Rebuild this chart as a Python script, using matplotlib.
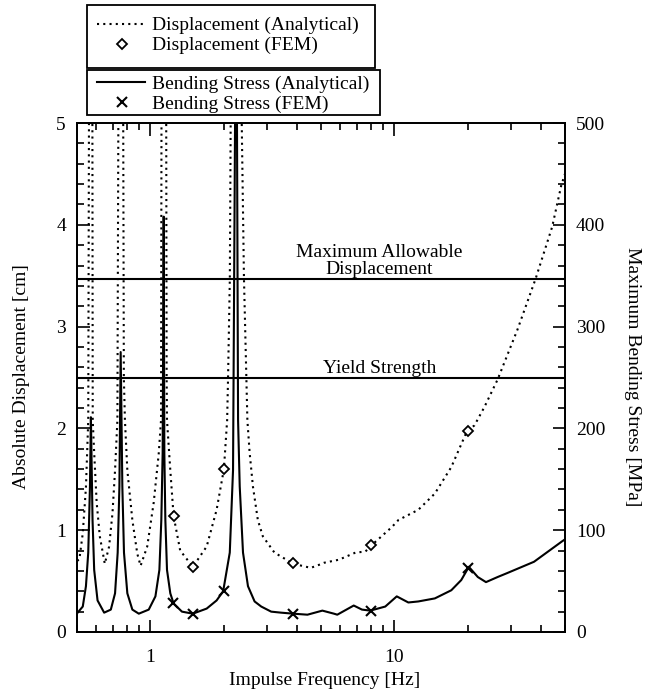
import matplotlib
matplotlib.use("Agg")
import matplotlib.pyplot as plt
from matplotlib.ticker import FixedLocator, FixedFormatter, MultipleLocator, NullFormatter
from matplotlib.lines import Line2D
from matplotlib.patches import Rectangle

plt.rcParams['font.family'] = ['Liberation Serif', 'DejaVu Serif']

# ---- data ----
# Displacement (Analytical) [cm]
disp_f = [0.50, 0.511, 0.528, 0.544, 0.556, 0.560, 0.569, 0.578, 0.580, 0.588, 0.602, 0.620, 0.650,
          0.677, 0.699, 0.716, 0.732, 0.739, 0.756, 0.773, 0.778, 0.786, 0.804, 0.843, 0.883, 0.911,
          0.970, 1.031, 1.081, 1.105, 1.110, 1.135, 1.160, 1.165, 1.169, 1.206, 1.244, 1.324, 1.492,
          1.70, 1.867, 2.0, 2.062, 2.08, 2.115, 2.134, 2.25, 2.36, 2.417, 2.472, 2.496, 2.55, 2.63,
          2.755, 2.888, 3.222, 3.85, 4.54, 4.91, 5.145, 5.92, 6.92, 7.60, 8.04, 9.75, 10.38, 12.52,
          14.64, 17.10, 19.80, 21.28, 23.37, 26.47, 31.92, 37.89, 44.3, 48.3, 50.0]
disp_v = [0.70, 0.71, 0.97, 1.42, 2.08, 5.2, 9.0, 5.2, 2.08, 1.76, 1.27, 0.94, 0.67,
          0.84, 1.17, 1.59, 2.08, 5.2, 9.0, 5.2, 2.5, 2.08, 1.59, 1.10, 0.77, 0.65,
          0.84, 1.27, 1.75, 2.08, 5.2, 9.0, 5.2, 2.5, 2.08, 1.59, 1.14, 0.80, 0.64,
          0.84, 1.20, 1.60, 2.08, 2.5, 3.47, 5.2, 9.0, 5.2, 3.47, 2.5, 2.08, 1.76, 1.43,
          1.10, 0.94, 0.78, 0.67, 0.63, 0.66, 0.68, 0.71, 0.78, 0.79, 0.85, 1.03, 1.10, 1.20,
          1.36, 1.62, 1.97, 2.03, 2.21, 2.48, 2.97, 3.47, 3.98, 4.39, 4.50]

# Displacement (FEM) [cm]
fem_disp_f = [1.25, 1.5, 2.0, 3.85, 8.0, 20.0]
fem_disp_v = [1.14, 0.64, 1.60, 0.68, 0.85, 1.97]

# Bending Stress (Analytical) [MPa]
str_f = [0.50, 0.503, 0.528, 0.544, 0.556, 0.565, 0.570, 0.579, 0.588, 0.607, 0.646, 0.688, 0.716,
         0.734, 0.746, 0.755, 0.767, 0.779, 0.804, 0.843, 0.896, 0.984, 1.048, 1.088, 1.108, 1.122,
         1.133, 1.140, 1.151, 1.169, 1.206, 1.244, 1.346, 1.492, 1.70, 1.867, 1.986, 2.114, 2.18,
         2.247, 2.286, 2.322, 2.395, 2.51, 2.672, 2.845, 3.124, 3.43, 3.85, 4.40, 5.065, 5.65, 5.83,
         6.81, 7.36, 7.96, 9.17, 10.22, 11.40, 12.52, 14.64, 17.10, 18.78, 20.18, 21.96, 23.72,
         26.47, 29.06, 37.33, 48.6, 50.0]
str_v = [18, 19, 25, 45, 78, 143, 211, 110, 61, 31, 19, 22, 38,
         78, 143, 275, 143, 78, 38, 22, 18, 22, 35, 61, 110, 176,
         408, 176, 110, 61, 38, 28, 20, 18, 23, 31, 40, 78, 159,
         700, 208, 143, 78, 45, 30, 25, 20, 19, 18, 17, 21, 18, 17,
         26, 22, 21, 25, 35, 29, 30, 33, 41, 51, 64, 54, 49,
         54, 58, 69, 89, 91]

# Bending Stress (FEM) [MPa]
fem_str_f = [1.24, 1.5, 2.0, 3.85, 8.0, 20.0]
fem_str_v = [28, 18, 40, 18, 21, 63]

# limit lines
max_allow_disp = 3.47   # cm
yield_strength = 250    # MPa

x_ticks = [1, 10]
x_ticklabels = ['1', '10']

legend_labels = ['Displacement (Analytical)', 'Displacement (FEM)',
                 'Bending Stress (Analytical)', 'Bending Stress (FEM)']

# ---- figure ----
W, H = 655, 690
fig = plt.figure(figsize=(W / 100, H / 100), dpi=100)
ax = fig.add_axes([77 / W, 1 - 632 / H, (565 - 77) / W, (632 - 123) / H])
ax2 = ax.twinx()

FS = 14
DOT = (0, (1, 2))

ax.set_xscale('log')
ax.set_xlim(0.5, 50)
ax.set_ylim(0, 5)
ax2.set_ylim(0, 500)

ax.plot(disp_f, disp_v, color='black', lw=1.5, ls=DOT)
ax.plot(fem_disp_f, fem_disp_v, ls='none', marker='D', ms=5.5, mfc='white', mec='black', mew=1.3)
ax2.plot(str_f, str_v, color='black', lw=1.5)
ax2.plot(fem_str_f, fem_str_v, ls='none', marker='x', ms=7, mec='black', mew=1.5)

ax.axhline(max_allow_disp, color='black', lw=1.5)
ax2.axhline(yield_strength, color='black', lw=1.5)

xt = 10 ** ((381 - 150) / 246)
ax.text(xt, 3.684, 'Maximum Allowable', ha='center', va='baseline', fontsize=FS)
ax.text(xt, 3.517, 'Displacement', ha='center', va='baseline', fontsize=FS)
ax.text(xt, 2.544, 'Yield Strength', ha='center', va='baseline', fontsize=FS)

# ticks
ax.xaxis.set_major_locator(FixedLocator(x_ticks))
ax.xaxis.set_major_formatter(FixedFormatter(x_ticklabels))
ax.xaxis.set_minor_formatter(NullFormatter())
ax.yaxis.set_major_locator(MultipleLocator(1))
ax.yaxis.set_minor_locator(MultipleLocator(0.2))
ax2.yaxis.set_major_locator(MultipleLocator(100))
ax2.yaxis.set_minor_locator(MultipleLocator(20))
ax.tick_params(which='both', direction='in', top=True, right=False, labelsize=FS, width=1.2)
ax.tick_params(which='major', length=9, pad=8)
ax.tick_params(which='minor', length=5)
ax.tick_params(axis='x', which='major', pad=12)
ax2.tick_params(which='both', direction='in', labelsize=FS, width=1.2)
ax2.tick_params(which='major', length=9, pad=8)
ax2.tick_params(which='minor', length=5)

for a in (ax, ax2):
    for s in a.spines.values():
        s.set_linewidth(1.3)

# axis labels
fig.text(325 / W, 1 - 685 / H, 'Impulse Frequency [Hz]', ha='center', va='baseline', fontsize=FS)
fig.text(22 / W, 1 - 377 / H, 'Absolute Displacement [cm]', ha='center', va='center',
         rotation=90, fontsize=FS)
fig.text(633 / W, 1 - 377 / H, 'Maximum Bending Stress [MPa]', ha='center', va='center',
         rotation=-90, fontsize=FS)

# legends (two boxes)
def fx(px):
    return px / W

def fy(py):
    return 1 - py / H

for (x0, y0, x1, y1) in [(87, 5, 375, 68), (87, 70, 380, 115)]:
    fig.patches.append(Rectangle((fx(x0), fy(y1)), fx(x1) - fx(x0), fy(y0) - fy(y1),
                                 transform=fig.transFigure, fill=True, facecolor='white',
                                 edgecolor='black', lw=1.3, zorder=5))

hx0, hx1, hxm = 97, 145, 122
rows = [24, 44, 82, 102]
base = [29.5, 49.5, 88.5, 108.5]
fig.lines.append(Line2D([fx(hx0), fx(hx1)], [fy(rows[0])] * 2, transform=fig.transFigure,
                        color='black', lw=1.5, ls=DOT, zorder=6))
fig.lines.append(Line2D([fx(hxm)], [fy(rows[1])], transform=fig.transFigure, ls='none',
                        marker='D', ms=5.5, mfc='white', mec='black', mew=1.3, zorder=6))
fig.lines.append(Line2D([fx(hx0), fx(hx1)], [fy(rows[2])] * 2, transform=fig.transFigure,
                        color='black', lw=1.5, zorder=6))
fig.lines.append(Line2D([fx(hxm)], [fy(rows[3])], transform=fig.transFigure, ls='none',
                        marker='x', ms=7, mec='black', mew=1.5, zorder=6))
for lab, b in zip(legend_labels, base):
    fig.text(fx(152), fy(b), lab, ha='left', va='baseline', fontsize=FS, zorder=7)

fig.savefig('out.png', dpi=100)
